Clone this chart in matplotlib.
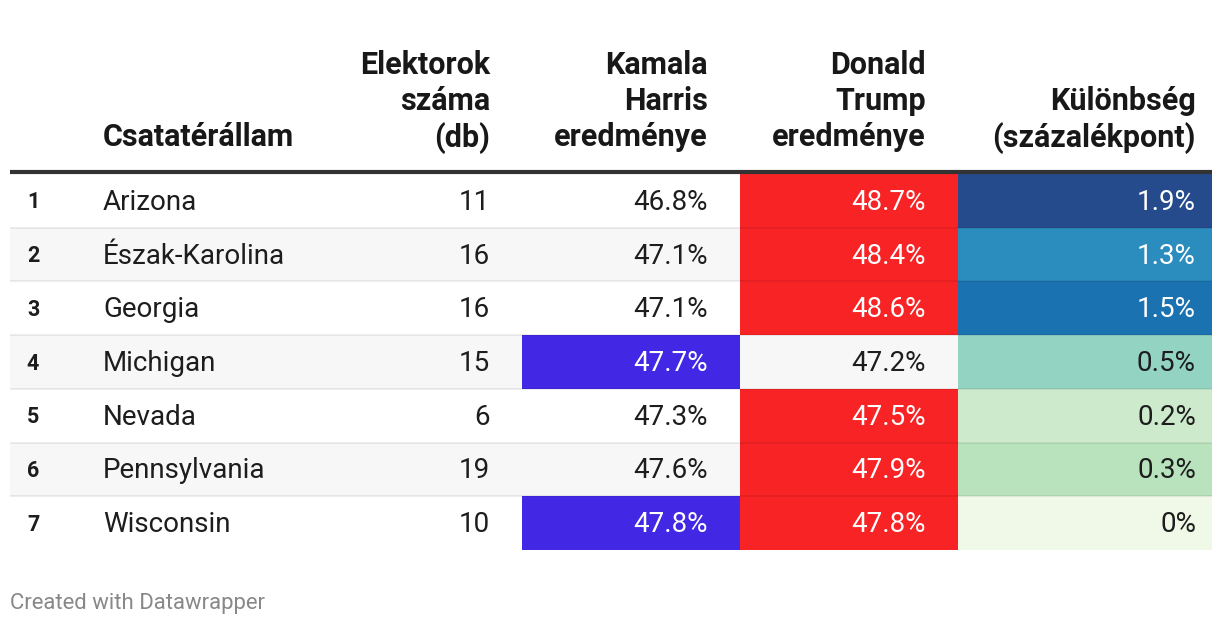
import matplotlib
matplotlib.use("Agg")
import matplotlib.pyplot as plt
from matplotlib.patches import Rectangle

# ---- data ----
ranks = [1, 2, 3, 4, 5, 6, 7]
states = ["Arizona", "Észak-Karolina", "Georgia", "Michigan", "Nevada", "Pennsylvania", "Wisconsin"]
electors = [11, 16, 16, 15, 6, 19, 10]
harris = [46.8, 47.1, 47.1, 47.7, 47.3, 47.6, 47.8]
trump = [48.7, 48.4, 48.6, 47.2, 47.5, 47.9, 47.8]
diff = [1.9, 1.3, 1.5, 0.5, 0.2, 0.3, 0.0]
headers = ["Csatatérállam", "Elektorok\nszáma\n(db)", "Kamala\nHarris\neredménye",
           "Donald\nTrump\neredménye", "Különbség\n(százalékpont)"]
footer = "Created with Datawrapper"

# ---- styles ----
HARRIS_COL = "#4228e4"
TRUMP_COL = "#f82325"
diff_colors = {1.9: "#254b8c", 1.3: "#2b8cbe", 1.5: "#1a72b0", 0.5: "#92d3c2",
               0.2: "#cdebcc", 0.3: "#b9e3bd", 0.0: "#f0f8e8"}
dark_diff = {1.9, 1.3, 1.5}

W, H = 1220, 626
fig = plt.figure(figsize=(W / 100, H / 100), dpi=100)
ax = fig.add_axes([0, 0, 1, 1])
ax.set_xlim(0, W)
ax.set_ylim(H, 0)
ax.axis("off")

FONT = "Roboto"
TXT = "#1d1d1d"
body_fs = 20.0
head_fs = 22

tbl_left, tbl_right = 10, 1212
row_top = 174
row_h = 53.7
harris_x0, harris_x1 = 522, 740
trump_x0, trump_x1 = 740, 958
diff_x0, diff_x1 = 958, 1212

# header
line_y = [74.5, 110.5, 146.5]
head_right = [None, 490, 708, 926, 1196]
ax.text(103, line_y[2], headers[0], ha="left", va="baseline", fontsize=head_fs,
        fontweight="bold", family=FONT, color="#181818")
for i in range(1, 5):
    lines = headers[i].split("\n")
    offs = 3 - len(lines)
    for j, ln in enumerate(lines):
        ax.text(head_right[i], line_y[offs + j], ln, ha="right", va="baseline",
                fontsize=head_fs, fontweight="bold", family=FONT, color="#181818")

# rows
for r in range(len(states)):
    y0 = row_top + r * row_h
    bg = "#f7f7f7" if r % 2 == 1 else "white"
    ax.add_patch(Rectangle((tbl_left, y0), tbl_right - tbl_left, row_h, color=bg, lw=0, zorder=1))
    base = y0 + 36
    m = max(harris[r], trump[r])
    hc = TXT
    if harris[r] == m:
        ax.add_patch(Rectangle((harris_x0, y0), harris_x1 - harris_x0, row_h, color=HARRIS_COL, lw=0, zorder=2))
        hc = "white"
    tc = TXT
    if trump[r] == m:
        ax.add_patch(Rectangle((trump_x0, y0), trump_x1 - trump_x0, row_h, color=TRUMP_COL, lw=0, zorder=2))
        tc = "white"
    ax.add_patch(Rectangle((diff_x0, y0), diff_x1 - diff_x0, row_h, color=diff_colors[diff[r]], lw=0, zorder=2))
    dc = "white" if diff[r] in dark_diff else TXT

    ax.text(33, base - 1.5, str(ranks[r]), ha="center", va="baseline", fontsize=15.5,
            fontweight="bold", family=FONT, color=TXT, zorder=5)
    kw = dict(va="baseline", fontsize=body_fs, family=FONT, zorder=5)
    ax.text(103, base, states[r], ha="left", color=TXT, **kw)
    ax.text(490, base, f"{electors[r]}", ha="right", color=TXT, **kw)
    ax.text(708, base, f"{harris[r]:.1f}%", ha="right", color=hc, **kw)
    ax.text(926, base, f"{trump[r]:.1f}%", ha="right", color=tc, **kw)
    ax.text(1196, base, f"{diff[r]:g}%", ha="right", color=dc, **kw)
    if r > 0:
        ax.plot([tbl_left, tbl_right], [y0, y0], color="black", alpha=0.08, lw=1.3, zorder=3,
                solid_capstyle="butt")

# header rule
ax.plot([tbl_left, tbl_right], [172, 172], color="#333333", lw=3, zorder=4, solid_capstyle="butt")

ax.text(10, 609, footer, ha="left", va="baseline", fontsize=15.9, family=FONT, color="#888888")

fig.savefig("out.png", dpi=100)
